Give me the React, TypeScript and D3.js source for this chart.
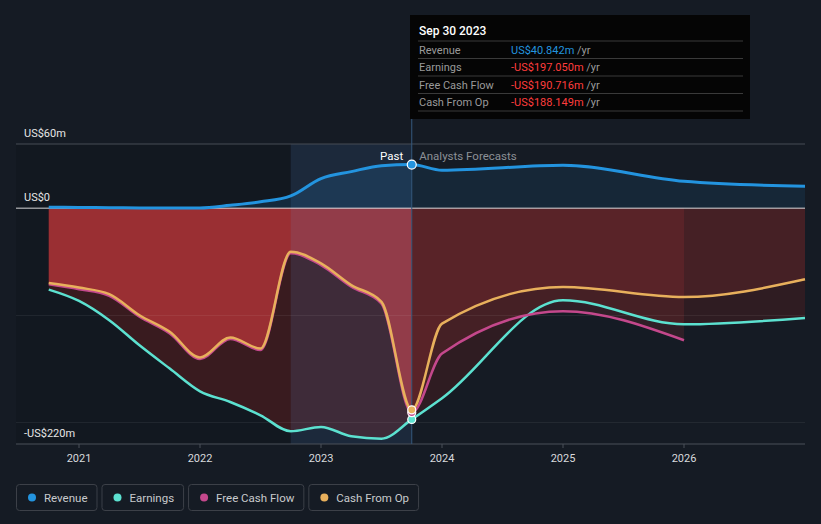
import React from 'react';
import * as d3 from 'd3';

// ---------- data ----------
const dates = [2020.75, 2021.0, 2021.25, 2021.5, 2021.75, 2022.0, 2022.25, 2022.5, 2022.75, 2023.0, 2023.25, 2023.5, 2023.75, 2024.0, 2025.0, 2026.0, 2027.0];
const revenue = [1.0, 0.8, 0.6, 0.3, 0.2, 0.3, 2.8, 6.0, 11.5, 27.7, 34.2, 39.8, 40.842, 35.5, 40.1, 25.2, 20.5];
const earnings = [-75.9, -86.5, -104.5, -127.9, -149.6, -170.8, -180.8, -193.2, -208.1, -204.1, -212.8, -215.0, -197.05, -177.3, -85.9, -108.3, -102.4];
const freeCashFlow: (number | null)[] = [-71.0, -75.5, -81.7, -101.2, -116.8, -140.6, -122.0, -132.3, -42.0, -53.0, -73.2, -89.0, -190.716, -135.6, -96.1, -123.2, null];
const cashFromOp = [-69.7, -74.0, -80.2, -99.8, -115.3, -139.2, -120.6, -130.9, -40.6, -51.4, -71.7, -87.3, -188.149, -107.6, -73.4, -82.8, -66.3];

const yearTicks = [2021, 2022, 2023, 2024, 2025, 2026];
const yLabelValues = [60, 0, -220];
const yLabels = ['US$60m', 'US$0', '-US$220m'];
const gridValues = [-100, -200];
const seriesNames = ['Revenue', 'Earnings', 'Free Cash Flow', 'Cash From Op'];
const seriesColors = ['#2394df', '#5ce1d0', '#c4488c', '#e8b05c'];
const tooltipDate = 'Sep 30 2023';
const tooltipValues = ['US$40.842m', '-US$197.050m', '-US$190.716m', '-US$188.149m'];
const currentDate = 2023.75;
const bandStart = 2022.75;

// ---------- layout ----------
const W = 821;
const H = 524;
const LEFT = 16;
const RIGHT = 805;
const FONT = "Roboto, 'Noto Sans', sans-serif";

const x = d3.scaleLinear().domain([2021, 2026]).range([79, 684]);
const y = d3.scaleLinear().domain([-220, 60]).range([444, 144]);

type P = { t: number; v: number };
const toPts = (vals: (number | null)[]): P[] =>
  dates.map((t, i) => ({ t, v: vals[i] as number })).filter((d) => d.v !== null && d.v !== undefined);

const lineGen = d3.line<P>().x((d) => x(d.t)).y((d) => y(d.v)).curve(d3.curveMonotoneX);
const areaGen = d3.area<P>().x((d) => x(d.t)).y0(y(0)).y1((d) => y(d.v)).curve(d3.curveMonotoneX);

function measure(text: string, size: number): number {
  try {
    const c = document.createElement('canvas');
    const ctx = c.getContext('2d');
    if (ctx) {
      ctx.font = `${size}px Roboto`;
      return ctx.measureText(text).width;
    }
  } catch (e) {}
  return text.length * size * 0.55;
}

export default function App() {
  const rev = toPts(revenue);
  const earn = toPts(earnings);
  const fcf = toPts(freeCashFlow);
  const cfo = toPts(cashFromOp);
  const xc = x(currentDate);
  const xb = x(bandStart);
  const top = y(60);
  const bottom = y(-220);
  const zero = y(0);

  const idx = dates.indexOf(currentDate);
  const dotVals = [revenue[idx], earnings[idx], freeCashFlow[idx] as number, cashFromOp[idx]];

  // legend layout
  let lx = LEFT;
  const legend = seriesNames.map((name, i) => {
    const w = 28 + measure(name, 11.5) + 9;
    const item = { name, color: seriesColors[i], x: lx, w };
    lx += w + 5;
    return item;
  });

  return (
    <svg width={W} height={H} style={{ position: 'absolute', left: 0, top: 0, display: 'block' }} fontFamily={FONT}>
      <defs>
        <clipPath id="past"><rect x={0} y={0} width={xc} height={H} /></clipPath>
        <clipPath id="future"><rect x={xc} y={0} width={W - xc} height={H} /></clipPath>
      </defs>
      <rect x={0} y={0} width={W} height={H} fill="#151b24" />
      {/* past darker region */}
      <rect x={LEFT} y={top} width={xb - LEFT} height={bottom - top} fill="#000" opacity={0.1} />

      {/* revenue area */}
      <path d={areaGen(rev) || ''} fill="#2394df" opacity={0.15} clipPath="url(#past)" />
      <path d={areaGen(rev) || ''} fill="#2394df" opacity={0.1} clipPath="url(#future)" />

      {/* negative areas */}
      <g clipPath="url(#past)">
        <path d={areaGen(earn) || ''} fill="#e62819" opacity={0.19} />
        <path d={areaGen(fcf) || ''} fill="#e13e41" opacity={0.35} />
        <path d={areaGen(cfo) || ''} fill="#e13e41" opacity={0.35} />
      </g>
      <g clipPath="url(#future)">
        <path d={areaGen(earn) || ''} fill="#e62819" opacity={0.125} />
        <path d={areaGen(fcf) || ''} fill="#e13e41" opacity={0.13} />
        <path d={areaGen(cfo) || ''} fill="#e13e41" opacity={0.13} />
      </g>

      {/* last-year band */}
      <rect x={xb} y={top} width={xc - xb} height={bottom - top} fill="rgb(79,152,228)" opacity={0.12} />

      {/* grid */}
      <line x1={LEFT} x2={RIGHT} y1={top} y2={top} stroke="#474c54" strokeWidth={1} />
      {gridValues.map((g) => (
        <line key={g} x1={LEFT} x2={RIGHT} y1={y(g)} y2={y(g)} stroke="#ffffff" strokeOpacity={0.07} strokeWidth={1} />
      ))}
      <line x1={LEFT} x2={RIGHT} y1={bottom} y2={bottom} stroke="#4b5058" strokeWidth={1} />
      {yearTicks.map((t) => (
        <g key={t}>
          <line x1={x(t)} x2={x(t)} y1={bottom} y2={bottom + 4} stroke="#4b5058" strokeWidth={1} />
          <text x={x(t)} y={462} textAnchor="middle" fontSize={11} fill="#d8dadd">{t}</text>
        </g>
      ))}
      <line x1={LEFT} x2={RIGHT} y1={zero} y2={zero} stroke="#ffffff" strokeOpacity={0.55} strokeWidth={1.5} />

      {/* current date line */}
      <line x1={xc} x2={xc} y1={119} y2={bottom} stroke="#35597c" strokeWidth={1} />

      {/* y labels */}
      {yLabelValues.map((v, i) => (
        <text key={v} x={24} y={y(v) - 7.5} fontSize={11} fill="#e6e6e6">{yLabels[i]}</text>
      ))}

      {/* lines */}
      <path d={lineGen(rev) || ''} fill="none" stroke={seriesColors[0]} strokeWidth={3} />
      <path d={lineGen(earn) || ''} fill="none" stroke={seriesColors[1]} strokeWidth={2.5} />
      <path d={lineGen(fcf) || ''} fill="none" stroke={seriesColors[2]} strokeWidth={2.5} />
      <path d={lineGen(cfo) || ''} fill="none" stroke={seriesColors[3]} strokeWidth={2.5} />

      {/* dots */}
      {[1, 2, 3, 0].map((i) => (
        <circle key={i} cx={xc} cy={y(dotVals[i])} r={i === 0 ? 4.5 : 4} fill={seriesColors[i]} stroke="#ffffff" strokeWidth={1.2} />
      ))}

      <text x={xc - 8.5} y={160} textAnchor="end" fontSize={11.5} fill="#ffffff">Past</text>
      <text x={xc + 7.5} y={160} fontSize={11.5} fill="#8c9096">Analysts Forecasts</text>

      {/* tooltip */}
      <g>
        <rect x={410} y={15} width={340} height={104} fill="#050505" />
        <text x={419} y={35} fontSize={12} fill="#ffffff" fontWeight={500}>{tooltipDate}</text>
        {[41, 58.5, 76, 93.5, 111].map((ly) => (
          <line key={ly} x1={418} x2={743} y1={ly} y2={ly} stroke="#3a3a3a" strokeWidth={1} />
        ))}
        {seriesNames.map((name, i) => (
          <g key={name}>
            <text x={419} y={53.5 + i * 17.5} fontSize={11} fill="#9a9a9a">{name}</text>
            <text x={511} y={53.5 + i * 17.5} fontSize={11}>
              <tspan fill={i === 0 ? '#2394df' : '#ff3d3d'}>{tooltipValues[i]}</tspan>
              <tspan fill="#9a9a9a"> /yr</tspan>
            </text>
          </g>
        ))}
      </g>

      {/* legend */}
      {legend.map((l) => (
        <g key={l.name}>
          <rect x={l.x + 0.5} y={484.5} width={l.w} height={26} rx={3} fill="#151b24" stroke="#3c4048" strokeWidth={1} />
          <circle cx={l.x + 16} cy={497.5} r={4} fill={l.color} />
          <text x={l.x + 28} y={501.5} fontSize={11.5} fill="#c8cacd">{l.name}</text>
        </g>
      ))}
    </svg>
  );
}
